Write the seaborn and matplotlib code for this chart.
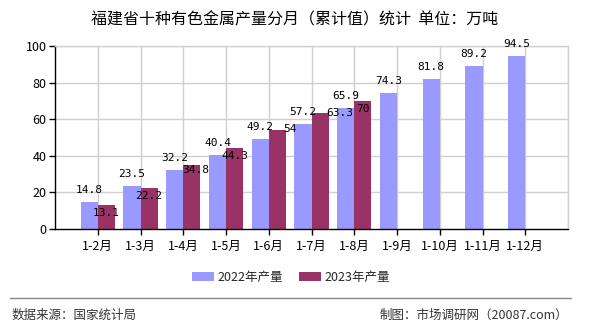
import matplotlib
matplotlib.use("Agg")
import matplotlib.pyplot as plt
import seaborn as sns
import pandas as pd
from matplotlib.lines import Line2D

months = ["1-2月", "1-3月", "1-4月", "1-5月", "1-6月", "1-7月", "1-8月",
          "1-9月", "1-10月", "1-11月", "1-12月"]
output_2022 = [14.8, 23.5, 32.2, 40.4, 49.2, 57.2, 65.9, 74.3, 81.8, 89.2, 94.5]
output_2023 = [13.1, 22.2, 34.8, 44.3, 54, 63.3, 70]
series_names = ["2022年产量", "2023年产量"]
yticks = [0, 20, 40, 60, 80, 100]

colors = ["#9999FF", "#993366"]

rows = [(m, v, series_names[0]) for m, v in zip(months, output_2022)]
rows += [(m, v, series_names[1]) for m, v in zip(months, output_2023)]
df = pd.DataFrame(rows, columns=["month", "value", "series"])

sns.set_theme(style="white")
plt.rcParams["font.family"] = ["Noto Sans CJK SC", "DejaVu Sans"]

DPI = 100
fig = plt.figure(figsize=(5.9, 3.3), dpi=DPI)
W, H = 590, 330
ax = fig.add_axes([55 / W, 1 - 229 / H, (568 - 55) / W, (229 - 46) / H])

sns.barplot(data=df, x="month", y="value", hue="series", order=months,
            hue_order=series_names, palette=colors, width=0.8,
            errorbar=None, saturation=1, ax=ax, legend=False)
for p in ax.patches:
    p.set_edgecolor("none")

ax.set_xlim(-1, len(months))
ax.set_ylim(0, 100)
ax.set_yticks(yticks)
ax.set_xticks(range(len(months)))
ax.set_xticklabels(months)
ax.set_xlabel("")
ax.set_ylabel("")

# grid
grid_c = "#d0d0d0"
for y in yticks[1:]:
    ax.axhline(y, color=grid_c, lw=1, zorder=0)
for x in range(len(months) + 1):
    ax.axvline(x, color=grid_c, lw=1, zorder=0)
ax.set_axisbelow(True)

for s in ["top", "right"]:
    ax.spines[s].set_color(grid_c)
    ax.spines[s].set_linewidth(1)
for s in ["left", "bottom"]:
    ax.spines[s].set_color("black")
    ax.spines[s].set_linewidth(1)

ax.tick_params(axis="both", which="both", direction="out", length=4,
               width=1, color="black", labelsize=9, labelcolor="black",
               pad=2, left=True, bottom=True)
ax.tick_params(axis="x", pad=4)

# value labels (offsets in pixels; positive dy moves up)
px = 72 / DPI
label_font = dict(family="DejaVu Sans Mono", fontsize=8, color="black")
for i, v in enumerate(output_2022):
    ax.annotate(f"{v:g}", (i - 0.2, v), xytext=(0, 12 * px),
                textcoords="offset points", ha="center", va="center",
                **label_font)
shift_2023 = {2: (4, 3), 4: (13, 9), 5: (20, 8)}
for i, v in enumerate(output_2023):
    dx, dy = shift_2023.get(i, (0, 0))
    ax.annotate(f"{v:g}", (i + 0.2, v), xytext=(dx * px, (-8 + dy) * px),
                textcoords="offset points", ha="center", va="center",
                **label_font)

# title
fig.text(295 / W, 1 - 20 / H, "福建省十种有色金属产量分月（累计值）统计  单位：万吨",
         ha="center", va="center", fontsize=11.5, color="black")

# legend
handles = [plt.Rectangle((0, 0), 1, 1, fc=c, ec="none") for c in colors]
fig.legend(handles, series_names, loc="center",
           bbox_to_anchor=(291 / W, 1 - 277 / H), ncol=2, frameon=False,
           fontsize=9, handlelength=1.75, handleheight=0.75,
           handletextpad=0.3, columnspacing=1.3)

# footer
fig.add_artist(Line2D([10 / W, 571 / W], [1 - 298 / H, 1 - 298 / H],
                      color="#888888", lw=1))
fig.text(12 / W, 1 - 315 / H, "数据来源：国家统计局", ha="left", va="center",
         fontsize=9, color="#333333")
fig.text(568 / W, 1 - 315 / H, "制图：市场调研网（20087.com）", ha="right",
         va="center", fontsize=9, color="#333333")

fig.savefig("out.png", dpi=DPI, facecolor="white")
